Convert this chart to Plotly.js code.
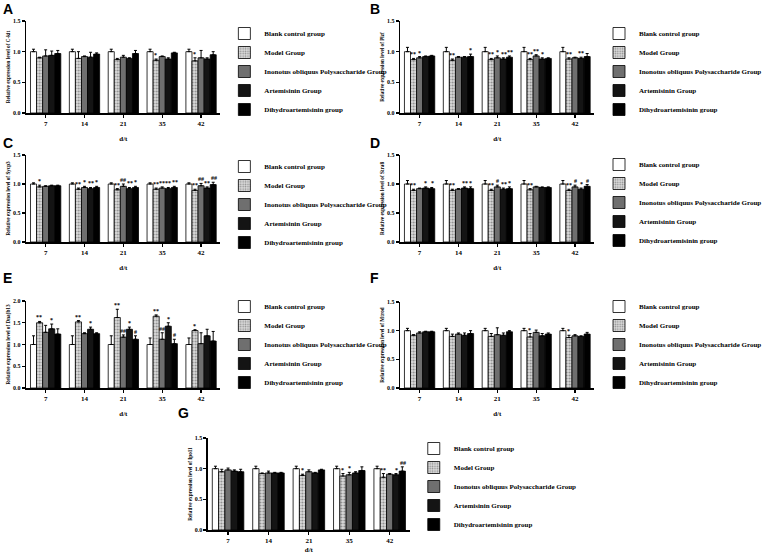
<!DOCTYPE html>
<html>
<head>
<meta charset="utf-8">
<script src="https://cdn.plot.ly/plotly-3.0.1.min.js"></script>
<style>html,body{margin:0;padding:0;background:#fff;}#chart{width:767px;height:554px;}</style>
</head>
<body>
<div id="chart"></div>
<script>
// ---------- data ----------
const days = ['7', '14', '21', '35', '42'];
const groups = ['Blank control group', 'Model Group', 'Inonotus obliquus Polysaccharide Group', 'Artemisinin Group', 'Dihydroartemisinin group'];
const panelLetters = ['A', 'B', 'C', 'D', 'E', 'F', 'G'];
const genes = ['C-kit', 'Plzf', 'Sycp3', 'Stra8', 'Dnajb13', 'Mtrod', 'Ipo11'];

// rows = groups (Blank, Model, Inonotus, Artemisinin, DHA); columns = days
const ckitMean = [[1.00,1.00,1.00,1.00,1.00],[0.90,0.89,0.87,0.86,0.85],[0.93,0.92,0.91,0.92,0.90],[0.94,0.91,0.89,0.88,0.88],[0.97,0.96,0.97,0.98,0.95]];
const ckitErr  = [[0.04,0.04,0.04,0.04,0.04],[0.01,0.11,0.02,0.02,0.05],[0.10,0.01,0.03,0.01,0.12],[0.07,0.08,0.01,0.02,0.02],[0.05,0.02,0.05,0.01,0.05]];
const ckitSig  = [['','','','',''],['','','','*','*'],['','','','',''],['','','','',''],['','','','','']];

const plzfMean = [[1.00,1.00,1.00,1.00,1.00],[0.87,0.86,0.87,0.87,0.88],[0.90,0.91,0.90,0.93,0.90],[0.92,0.91,0.88,0.88,0.89],[0.93,0.92,0.91,0.89,0.92]];
const plzfErr  = [[0.07,0.07,0.07,0.07,0.07],[0.02,0.02,0.02,0.02,0.02],[0.02,0.01,0.03,0.02,0.01],[0.01,0.01,0.02,0.02,0.02],[0.01,0.04,0.02,0.01,0.05]];
const plzfSig  = [['','','','',''],['**','**','**','**','**'],['*','','*','**',''],['','','**','*','**'],['','*','**','','']];

const sycp3Mean = [[1.00,1.00,1.00,1.00,1.00],[0.95,0.91,0.90,0.91,0.89],[0.96,0.94,0.96,0.93,0.97],[0.97,0.92,0.92,0.92,0.93],[0.97,0.94,0.94,0.94,0.99]];
const sycp3Err  = [[0.02,0.02,0.02,0.02,0.02],[0.03,0.02,0.02,0.02,0.02],[0.01,0.02,0.04,0.02,0.04],[0.01,0.02,0.02,0.02,0.02],[0.01,0.02,0.02,0.02,0.04]];
const sycp3Sig  = [['','','','',''],['*','**','**','**','**'],['','*','##','**','##'],['','**','**','**','**'],['','*','*','**','##']];

const stra8Mean = [[1.00,1.00,1.00,1.00,1.00],[0.89,0.89,0.89,0.90,0.89],[0.92,0.91,0.95,0.95,0.95],[0.93,0.93,0.91,0.94,0.91],[0.92,0.92,0.92,0.94,0.96]];
const stra8Err  = [[0.06,0.06,0.06,0.06,0.06],[0.02,0.02,0.02,0.02,0.02],[0.01,0.01,0.03,0.01,0.03],[0.02,0.02,0.02,0.01,0.02],[0.02,0.03,0.03,0.01,0.03]];
const stra8Sig  = [['','','','',''],['**','**','**','**','**'],['','','#','','#'],['*','**','**','','*'],['*','*','*','','#']];

const dnajb13Mean = [[1.00,1.00,1.00,1.00,1.00],[1.50,1.52,1.62,1.65,1.32],[1.28,1.25,1.17,1.12,1.02],[1.36,1.35,1.35,1.42,1.20],[1.24,1.25,1.12,1.02,1.08]];
const dnajb13Err  = [[0.20,0.20,0.20,0.15,0.15],[0.03,0.03,0.19,0.03,0.02],[0.16,0.02,0.05,0.15,0.25],[0.11,0.05,0.05,0.08,0.15],[0.12,0.02,0.08,0.10,0.22]];
const dnajb13Sig  = [['','','','',''],['**','**','**','**','*'],['','','##','##',''],['*','*','*','*',''],['','','#','#','']];

const mtrodMean = [[1.00,1.00,1.00,1.00,1.00],[0.92,0.90,0.90,0.89,0.88],[0.96,0.94,0.93,0.97,0.91],[0.98,0.92,0.92,0.91,0.90],[0.98,0.95,0.98,0.94,0.94]];
const mtrodErr  = [[0.04,0.04,0.04,0.04,0.04],[0.01,0.04,0.05,0.06,0.04],[0.02,0.02,0.12,0.04,0.02],[0.01,0.04,0.04,0.04,0.01],[0.01,0.05,0.02,0.02,0.03]];
const mtrodSig  = [['','','','',''],['','','','*','*'],['','','','',''],['','','','',''],['','','','','']];

const ipo11Mean = [[1.00,1.00,1.00,1.00,1.00],[0.95,0.92,0.89,0.88,0.86],[0.98,0.93,0.95,0.90,0.91],[0.96,0.93,0.93,0.93,0.90],[0.95,0.93,0.98,0.97,0.96]];
const ipo11Err  = [[0.04,0.04,0.04,0.04,0.04],[0.04,0.01,0.02,0.04,0.06],[0.03,0.03,0.03,0.04,0.01],[0.02,0.01,0.01,0.02,0.02],[0.04,0.01,0.01,0.06,0.07]];
const ipo11Sig  = [['','','','',''],['','','*','*','**'],['','','','*',''],['','','','','*'],['','','','','##']];

const panelMeans = [ckitMean, plzfMean, sycp3Mean, stra8Mean, dnajb13Mean, mtrodMean, ipo11Mean];
const panelErrs  = [ckitErr, plzfErr, sycp3Err, stra8Err, dnajb13Err, mtrodErr, ipo11Err];
const panelSigs  = [ckitSig, plzfSig, sycp3Sig, stra8Sig, dnajb13Sig, mtrodSig, ipo11Sig];
const panelYMax  = [1.5, 1.5, 1.5, 1.5, 2.0, 1.5, 1.5];

// ---------- layout geometry (pixels) ----------
const W = 767, H = 554;
const px = x => x / W;
const py = y => 1 - y / H;
const boxes = [
  {x0: 27,  x1: 227, y0: 21,  y1: 113, lx: 231, ly: 19,  tx: 2,   ty: 0},
  {x0: 412, x1: 612, y0: 21,  y1: 113, lx: 617, ly: 19,  tx: 380, ty: 0},
  {x0: 27,  x1: 227, y0: 155, y1: 242, lx: 231, ly: 152, tx: 2,   ty: 134},
  {x0: 412, x1: 612, y0: 155, y1: 242, lx: 617, ly: 150, tx: 380, ty: 134},
  {x0: 27,  x1: 227, y0: 301, y1: 388, lx: 231, ly: 292, tx: 2,   ty: 269},
  {x0: 412, x1: 612, y0: 302, y1: 388, lx: 617, ly: 292, tx: 380, ty: 269},
  {x0: 214, x1: 422, y0: 438, y1: 530, lx: 426, ly: 434, tx: 182, ty: 404}
];
const BARGAP = 0.22;

const serif = 'Liberation Serif, Times New Roman, serif';
const fills = ['#ffffff', '#d4d4d4', '#6f6f6f', '#141414', '#000000'];

const traces = [];
const annotations = [];
const layout = {
  width: W, height: H,
  margin: {l: 0, r: 0, t: 0, b: 0},
  paper_bgcolor: '#ffffff', plot_bgcolor: 'rgba(0,0,0,0)',
  barmode: 'group', bargap: BARGAP, bargroupgap: 0,
  showlegend: true,
  font: {family: serif, color: '#000'}
};

panelMeans.forEach((means, p) => {
  const b = boxes[p];
  const sfx = p === 0 ? '' : String(p + 1);
  const xa = 'x' + sfx, ya = 'y' + sfx;
  const legName = 'legend' + sfx;

  layout['xaxis' + sfx] = {
    domain: [px(b.x0), px(b.x1)], anchor: ya, type: 'category',
    range: [-0.5, days.length - 0.5],
    showline: true, linecolor: '#000', linewidth: 1.5, mirror: false,
    ticks: 'outside', ticklen: 3, tickwidth: 1.2, tickcolor: '#000',
    showgrid: false, zeroline: false, fixedrange: true,
    tickfont: {family: serif, size: 7, weight: 'bold', color: '#000'},
    title: {text: 'd/t', font: {family: serif, size: 7, weight: 'bold', color: '#000'}, standoff: 9}
  };
  layout['yaxis' + sfx] = {
    domain: [py(b.y1), py(b.y0)], anchor: xa,
    range: [0, panelYMax[p]], dtick: 0.5, tickformat: '.1f',
    showline: true, linecolor: '#000', linewidth: 1.5,
    ticks: 'outside', ticklen: 3, tickwidth: 1.2, tickcolor: '#000',
    showgrid: false, zeroline: false, fixedrange: true,
    tickfont: {family: serif, size: 6, weight: 'bold', color: '#000'},
    title: {text: 'Relative expression level of ' + genes[p], font: {family: serif, size: 5.2, weight: 'bold', color: '#000'}, standoff: 2}
  };
  layout[legName] = {
    x: px(b.lx), y: py(b.ly), xanchor: 'left', yanchor: 'top',
    xref: 'paper', yref: 'paper',
    bgcolor: 'rgba(0,0,0,0)', borderwidth: 0,
    font: {family: serif, size: 7, weight: 'bold', color: '#000'},
    traceorder: 'normal', itemwidth: 30, tracegroupgap: 0
  };

  const widthPx = b.x1 - b.x0;
  const barPx = widthPx / days.length * (1 - BARGAP) / groups.length;

  means.forEach((vals, g) => {
    const errs = panelErrs[p][g];
    const mk = {color: fills[g], line: {color: '#000', width: 0.8}};
    if (g === 1) {
      mk.pattern = {shape: '.', fgcolor: '#8a8a8a', bgcolor: '#dcdcdc', size: 3, solidity: 0.35};
    }
    traces.push({
      type: 'bar', x: days, y: vals, name: groups[g],
      xaxis: xa, yaxis: ya, legend: legName,
      marker: mk,
      error_y: {type: 'data', array: errs, arrayminus: errs.map(() => 0), symmetric: false,
                color: '#000', thickness: 1, width: 1.5},
      hoverinfo: 'skip'
    });
    panelSigs[p][g].forEach((s, d) => {
      if (!s) return;
      annotations.push({
        xref: xa, yref: ya, x: d, y: vals[d] + errs[d],
        xshift: (g - (groups.length - 1) / 2) * barPx, yshift: -1,
        yanchor: 'bottom', xanchor: 'center', showarrow: false,
        text: s, font: {family: serif, size: 6, weight: 'bold', color: '#000'}
      });
    });
  });

  annotations.push({
    xref: 'paper', yref: 'paper', x: px(b.tx), y: py(b.ty),
    xanchor: 'left', yanchor: 'top', showarrow: false, borderpad: 0,
    text: panelLetters[p], font: {family: 'Liberation Sans, Arial, sans-serif', size: 14, weight: 'bold', color: '#000'}
  });
});

layout.annotations = annotations;

Plotly.newPlot('chart', traces, layout, {displayModeBar: false, staticPlot: true});
</script>
</body>
</html>
